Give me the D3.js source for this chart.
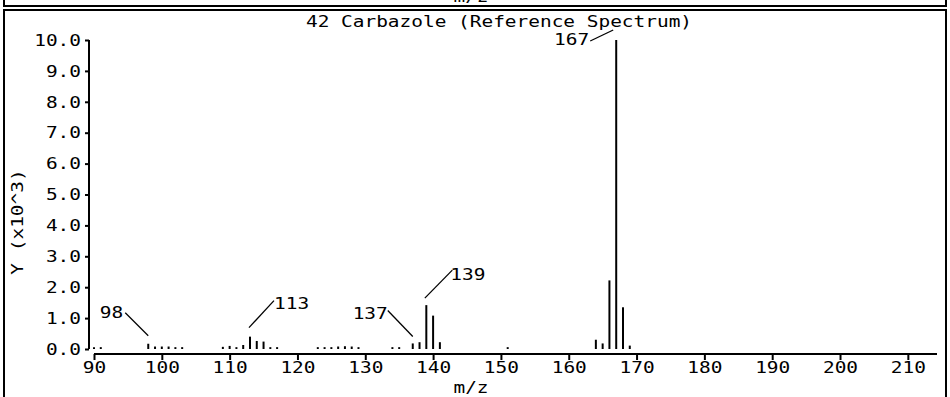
<!DOCTYPE html>
<html>
<head>
<meta charset="utf-8">
<script src="https://cdn.jsdelivr.net/npm/d3@7/dist/d3.min.js"></script>
<style>
  html, body { margin: 0; padding: 0; background: #fff; }
  svg { display: block; }
  text { font-family: "DejaVu Sans Mono", "Liberation Mono", monospace; fill: #000; }
</style>
</head>
<body>
<svg id="chart" width="950" height="397"></svg>
<script>
// ---- data ----
const title = "42 Carbazole (Reference Spectrum)";
const xLabel = "m/z";
const yLabel = "Y (x10^3)";
const mz = [90, 91, 98, 99, 100, 101, 102, 103,
            109, 110, 111, 112, 113, 114, 115, 116, 117,
            123, 124, 125, 126, 127, 128, 129,
            134, 135, 137, 138, 139, 140, 141, 151,
            164, 165, 166, 167, 168, 169];
const intensity = [0.06, 0.06, 0.17, 0.08, 0.08, 0.08, 0.06, 0.06,
                   0.07, 0.10, 0.06, 0.13, 0.40, 0.26, 0.24, 0.06, 0.06,
                   0.06, 0.06, 0.06, 0.08, 0.09, 0.08, 0.06,
                   0.06, 0.06, 0.18, 0.22, 1.42, 1.08, 0.22, 0.06,
                   0.30, 0.18, 2.22, 10.0, 1.35, 0.11];
const labeledPeaks = [98, 113, 137, 139, 167];
const xTicks = [90, 100, 110, 120, 130, 140, 150, 160, 170, 180, 190, 200, 210];
const yTicks = [0, 1, 2, 3, 4, 5, 6, 7, 8, 9, 10];

// ---- layout (not data) ----
const CW = 11.7;               // char width of the wide pixel-like font
const FS = 15;
const labelLayout = {
  98:  { ex: 0,    ey: -8,  sx: -23, sy: -31, anchor: "end",   tx: -25, ty: -26 },
  113: { ex: -1,   ey: -9,  sx: 24,  sy: -36, anchor: "start", tx: 24,  ty: -28 },
  137: { ex: 0,    ey: -7,  sx: -25, sy: -33, anchor: "end",   tx: -25, ty: -24 },
  139: { ex: -1.5, ey: -7,  sx: 26,  sy: -35, anchor: "start", tx: 24,  ty: -25 },
  167: { ex: -3,   ey: -10, sx: -26, sy: 1,   anchor: "end",   tx: -27, ty: 5 }
};

const svg = d3.select("#chart");

function wideText(sel) {
  sel.each(function() {
    const t = d3.select(this);
    const s = t.text();
    t.attr("textLength", s.length * CW).attr("lengthAdjust", "spacingAndGlyphs");
  });
  return sel;
}

// frames (previous panel's bottom edge + this panel)
svg.append("rect").attr("x", 4).attr("y", -20).attr("width", 942).attr("height", 26)
  .attr("fill", "none").attr("stroke", "#000").attr("stroke-width", 2);
svg.append("text").attr("x", 471).attr("y", 2).attr("text-anchor", "middle")
  .attr("font-size", FS).text(xLabel).call(wideText);
svg.append("rect").attr("x", 4).attr("y", 10).attr("width", 942).attr("height", 400)
  .attr("fill", "none").attr("stroke", "#000").attr("stroke-width", 2);

// scales
const x = d3.scaleLinear().domain([90, 214.3]).range([94, 937]);
const y = d3.scaleLinear().domain([0, 10]).range([349, 40]);

// y axis
const yAxis = svg.append("g").attr("transform", "translate(89,0)")
  .call(d3.axisLeft(y).tickValues(yTicks).tickFormat(d3.format(".1f")).tickSize(4).tickPadding(4));
yAxis.select(".domain").attr("stroke", "#000").attr("stroke-width", 2).attr("d", `M0,${y(10)}V${y(0)}`);
yAxis.selectAll(".tick line").attr("stroke", "#000").attr("stroke-width", 2);
yAxis.selectAll(".tick text").attr("font-size", FS).attr("font-family", "DejaVu Sans Mono")
  .attr("dy", "0.35em").call(wideText);

// x axis
const xAxis = svg.append("g").attr("transform", "translate(0,354)")
  .call(d3.axisBottom(x).tickValues(xTicks).tickFormat(d3.format("d")).tickSize(6).tickPadding(2));
xAxis.select(".domain").attr("stroke", "#000").attr("stroke-width", 2).attr("d", `M${x(90)},0H${x(214.3)}`);
xAxis.selectAll(".tick line").attr("stroke", "#000").attr("stroke-width", 2);
xAxis.selectAll(".tick text").attr("font-size", FS).attr("font-family", "DejaVu Sans Mono")
  .attr("dy", "0.71em").call(wideText);

// peaks
const peaks = mz.map((m, i) => ({ mz: m, v: intensity[i] }));
svg.append("g").selectAll("line").data(peaks).join("line")
  .attr("x1", d => x(d.mz)).attr("x2", d => x(d.mz))
  .attr("y1", y(0)).attr("y2", d => y(d.v))
  .attr("stroke", "#000").attr("stroke-width", 2);

// peak labels with leaders
const ann = svg.append("g");
labeledPeaks.forEach(m => {
  const p = peaks.find(d => d.mz === m);
  const L = labelLayout[m];
  const px = x(p.mz), py = y(p.v);
  ann.append("line")
    .attr("x1", px + L.sx).attr("y1", py + L.sy)
    .attr("x2", px + L.ex).attr("y2", py + L.ey)
    .attr("stroke", "#000").attr("stroke-width", 1.3);
  ann.append("text").attr("x", px + L.tx).attr("y", py + L.ty)
    .attr("text-anchor", L.anchor).attr("font-size", FS).text(String(m)).call(wideText);
});

// title & axis labels
svg.append("text").attr("x", 499).attr("y", 27).attr("text-anchor", "middle")
  .attr("font-size", FS).text(title).call(wideText);
svg.append("text").attr("x", 471).attr("y", 393).attr("text-anchor", "middle")
  .attr("font-size", FS).text(xLabel).call(wideText);
svg.append("text").attr("transform", "translate(23,222) rotate(-90)").attr("text-anchor", "middle")
  .attr("font-size", FS).text(yLabel).call(wideText);
</script>
</body>
</html>
